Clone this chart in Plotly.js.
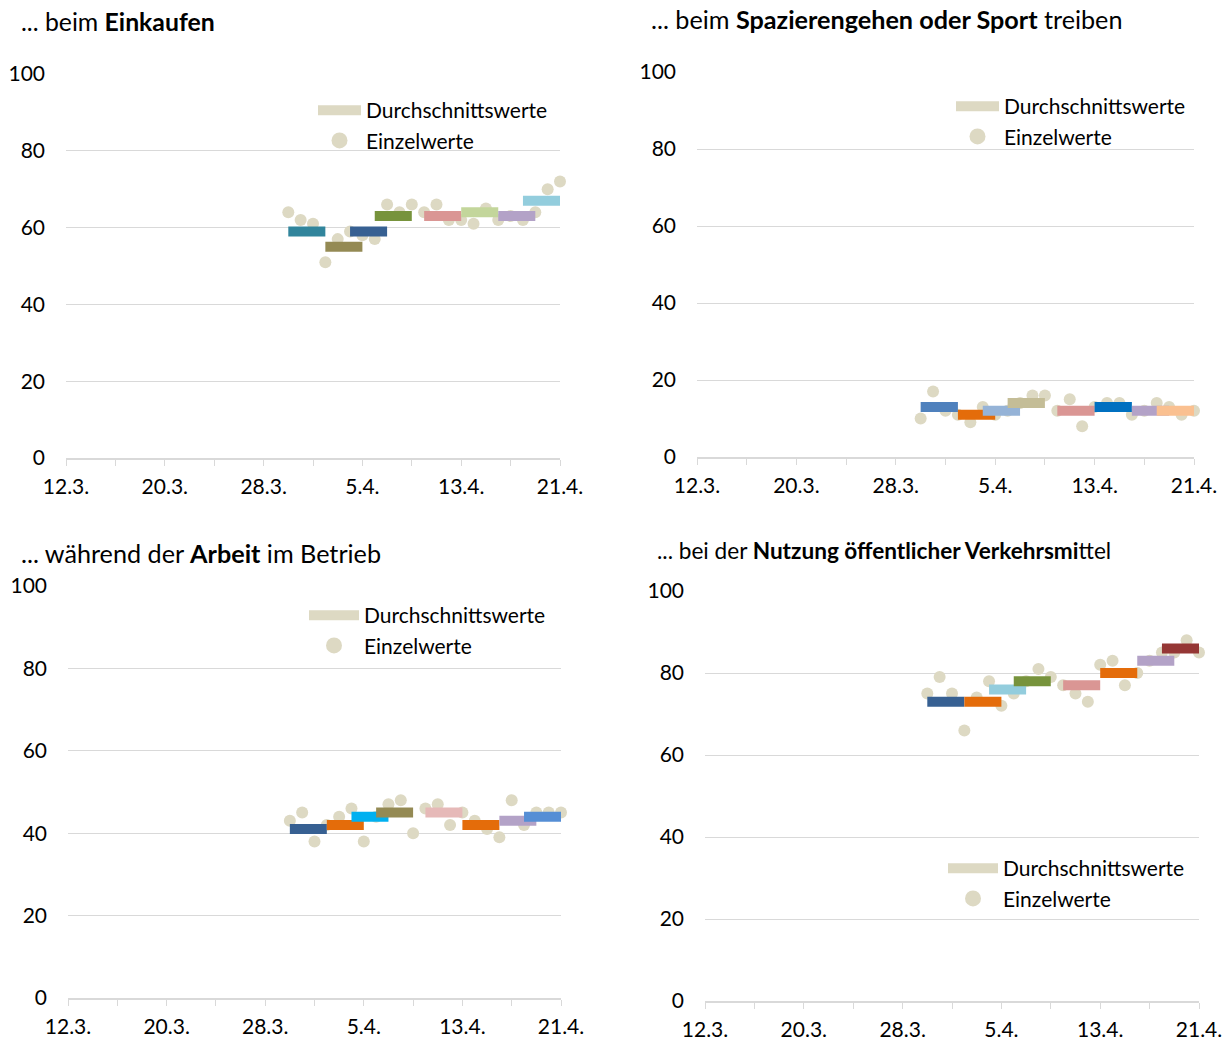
<!DOCTYPE html>
<html>
<head>
<meta charset="utf-8">
<script src="https://cdn.plot.ly/plotly-3.0.1.min.js"></script>
<style>
html,body{margin:0;padding:0;background:#ffffff;}
#chart{width:1229px;height:1043px;}
</style>
</head>
<body>
<div id="chart"></div>
<script>
// ---- shared categories / ticks ----
const days = ['2020-03-30','2020-03-31','2020-04-01','2020-04-02','2020-04-03','2020-04-04','2020-04-05','2020-04-06',
  '2020-04-07','2020-04-08','2020-04-09','2020-04-10','2020-04-11','2020-04-12','2020-04-13','2020-04-14',
  '2020-04-15','2020-04-16','2020-04-17','2020-04-18','2020-04-19','2020-04-20','2020-04-21'];
const periodStarts = ['2020-03-30','2020-04-02','2020-04-04','2020-04-06','2020-04-10','2020-04-13','2020-04-16','2020-04-18'];
const tickDates = ['2020-03-12','2020-03-16','2020-03-20','2020-03-24','2020-03-28','2020-04-01','2020-04-05','2020-04-09','2020-04-13','2020-04-17','2020-04-21'];
const tickLabels = ['12.3.','','20.3.','','28.3.','','5.4.','','13.4.','','21.4.'];
const yTicks = [0,20,40,60,80,100];
const legendNames = ['Durchschnittswerte','Einzelwerte'];

// ---- panel 1: Einkaufen ----
const einkaufenTitle = '... beim <b>Einkaufen</b>';
const einkaufenDots = [64,62,61,51,57,59,58,57,66,64,66,64,66,62,62,61,65,62,63,62,64,70,72];
const einkaufenAvg = [59,55,59,63,63,64,63,67];
const einkaufenColors = ['#31859C','#948A54','#376092','#77933C','#DA9694','#C3D69B','#B3A2C7','#93CDDD'];

// ---- panel 2: Spazierengehen / Sport ----
const sportTitle = '... beim <b>Spazierengehen oder Sport</b> treiben';
const sportDots = [10,17,12,11,9,13,11,12,14,16,16,12,15,8,13,14,14,11,12,14,13,11,12];
const sportAvg = [13,11,12,14,12,13,12,12];
const sportColors = ['#4F81BD','#E46C0A','#95B3D7','#C4BD97','#DA9694','#0070C0','#B3A2C7','#FAC090'];

// ---- panel 3: Arbeit ----
const arbeitTitle = '... während der <b>Arbeit</b> im Betrieb';
const arbeitDots = [43,45,38,42,44,46,38,44,47,48,40,46,47,42,45,43,41,39,48,42,45,45,45];
const arbeitAvg = [41,42,44,45,45,42,43,44];
const arbeitColors = ['#376092','#E46C0A','#00B0F0','#948A54','#E6B9B8','#E46C0A','#B3A2C7','#558ED5'];

// ---- panel 4: ÖPNV ----
const oepnvTitle = '... bei der <b>Nutzung öffentlicher Verkehrsmi</b>ttel';
const oepnvDots = [75,79,75,66,74,78,72,75,78,81,79,77,75,73,82,83,77,80,83,85,85,88,85];
const oepnvAvg = [73,73,76,78,77,80,83,86];
const oepnvColors = ['#376092','#E46C0A','#93CDDD','#77933C','#DA9694','#E46C0A','#B3A2C7','#953735'];

// ---- layout geometry (pixels in a 1229x1043 canvas) ----
const W = 1229, H = 1043;
const DAY = 86400000;
const PERIOD_DAYS = 3;
const FONT = 'Lato, "Open Sans", sans-serif';
const panels = [
  {title: einkaufenTitle, dots: einkaufenDots, avg: einkaufenAvg, colors: einkaufenColors,
   x0: 66, x1: 560, yb: 458, yt: 74, tx: 19, ty: 22, tsize: 24.8, lx: 313, ly: 90, iw: 43},
  {title: sportTitle, dots: sportDots, avg: sportAvg, colors: sportColors,
   x0: 697, x1: 1194, yb: 457, yt: 72, tx: 649, ty: 19, tsize: 25.2, lx: 951, ly: 86, iw: 43},
  {title: arbeitTitle, dots: arbeitDots, avg: arbeitAvg, colors: arbeitColors,
   x0: 68, x1: 561, yb: 998, yt: 586, tx: 19, ty: 553, tsize: 25.2, lx: 304, ly: 595, iw: 50},
  {title: oepnvTitle, dots: oepnvDots, avg: oepnvAvg, colors: oepnvColors,
   x0: 705, x1: 1199, yb: 1001, yt: 591, tx: 655, ty: 550, tsize: 22.6, lx: 943, ly: 848, iw: 50}
];

const traces = [];
const layout = {
  width: W, height: H,
  margin: {l: 0, r: 0, t: 0, b: 0},
  paper_bgcolor: '#ffffff', plot_bgcolor: '#ffffff',
  font: {family: FONT, color: '#000000', size: 21},
  showlegend: true,
  annotations: []
};

panels.forEach((p, i) => {
  const n = i + 1;
  const sfx = n === 1 ? '' : String(n);
  const xa = 'x' + sfx, ya = 'y' + sfx;
  const lg = 'legend' + sfx;

  // single values (dots) – drawn first, so they sit behind the average bars
  traces.push({
    type: 'scatter', mode: 'markers', x: days, y: p.dots,
    xaxis: xa, yaxis: ya, showlegend: false, cliponaxis: false,
    marker: {color: '#DDD9C3', size: 12}, hovertemplate: '%{y}<extra></extra>'
  });
  // 3-day averages as short thick horizontal segments
  periodStarts.forEach((s, k) => {
    const t0 = Date.parse(s);
    traces.push({
      type: 'scatter', mode: 'lines',
      x: [t0, t0 + PERIOD_DAYS * DAY], y: [p.avg[k], p.avg[k]],
      xaxis: xa, yaxis: ya, showlegend: false, cliponaxis: false,
      line: {color: p.colors[k], width: 10},
      hovertemplate: '%{y}<extra></extra>'
    });
  });
  // legend entries
  traces.push({
    type: 'scatter', mode: 'lines', x: [null], y: [null], name: legendNames[0],
    xaxis: xa, yaxis: ya, legend: lg, legendgroup: 'a' + n,
    line: {color: '#DDD9C3', width: 14}, hoverinfo: 'skip'
  });
  traces.push({
    type: 'scatter', mode: 'markers', x: [null], y: [null], name: legendNames[1],
    xaxis: xa, yaxis: ya, legend: lg, legendgroup: 'b' + n,
    marker: {color: '#DDD9C3', size: 17}, hoverinfo: 'skip'
  });

  layout['xaxis' + sfx] = {
    type: 'date', anchor: ya,
    domain: [p.x0 / W, p.x1 / W],
    range: ['2020-03-12', '2020-04-21'],
    tickmode: 'array', tickvals: tickDates, ticktext: tickLabels,
    ticks: 'outside', ticklen: 6, tickcolor: '#D9D9D9', tickwidth: 1.3,
    showline: true, linecolor: '#D9D9D9', linewidth: 1.5,
    showgrid: false, zeroline: false, fixedrange: true,
    tickfont: {size: 21, family: FONT, color: '#000'},
    ticklabelstandoff: 3
  };
  layout['yaxis' + sfx] = {
    anchor: xa,
    domain: [1 - p.yb / H, 1 - p.yt / H],
    range: [0, 100],
    tickmode: 'array', tickvals: yTicks,
    showgrid: true, gridcolor: '#D9D9D9', gridwidth: 1.3,
    showline: false, zeroline: false, ticks: '', fixedrange: true,
    tickfont: {size: 21, family: FONT, color: '#000'},
    ticklabelstandoff: 20
  };
  layout[lg] = {
    x: p.lx / W, y: 1 - p.ly / H, xanchor: 'left', yanchor: 'top',
    xref: 'paper', yref: 'paper',
    bgcolor: 'rgba(0,0,0,0)', borderwidth: 0,
    font: {size: 21, family: FONT, color: '#000'},
    traceorder: 'grouped', tracegroupgap: 0, itemwidth: p.iw
  };
  layout.annotations.push({
    xref: 'paper', yref: 'paper', x: p.tx / W, y: 1 - p.ty / H,
    xanchor: 'left', yanchor: 'middle', showarrow: false,
    text: p.title, font: {size: p.tsize, family: FONT, color: '#000'}
  });
});

Plotly.newPlot('chart', traces, layout, {displayModeBar: false});
</script>
</body>
</html>
